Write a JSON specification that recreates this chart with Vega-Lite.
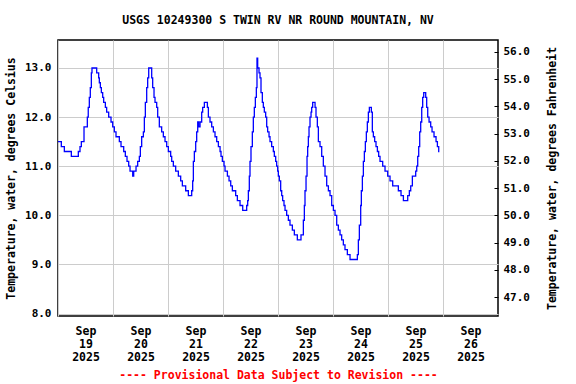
{
  "$schema": "https://vega.github.io/schema/vega-lite/v6.json",
  "autosize": {"type": "none"},
  "width": 440,
  "height": 276,
  "padding": {"left": 58, "top": 40, "right": 78, "bottom": 68},
  "background": "white",
  "title": {"text": "USGS 10249300 S TWIN RV NR ROUND MOUNTAIN, NV", "font": "DejaVu Sans Mono", "fontSize": 11.5, "fontWeight": "bold", "color": "black", "anchor": "middle", "offset": 14},
  "config": {
    "view": {"stroke": "black", "strokeWidth": 1.5},
    "axis": {"labelFont": "DejaVu Sans Mono", "labelFontWeight": "bold", "labelColor": "black", "titleFont": "DejaVu Sans Mono", "titleFontWeight": "bold", "titleColor": "black", "domain": false}
  },
  "data": {"values": [
    {"t":"2025-09-19T00:00","v":11.5},{"t":"2025-09-19T01:27","v":11.4},{"t":"2025-09-19T02:46","v":11.3},{"t":"2025-09-19T05:49","v":11.2},{"t":"2025-09-19T08:52","v":11.3},{"t":"2025-09-19T09:36","v":11.4},{"t":"2025-09-19T10:11","v":11.5},{"t":"2025-09-19T11:21","v":11.8},{"t":"2025-09-19T12:48","v":12.0},{"t":"2025-09-19T13:12","v":12.2},{"t":"2025-09-19T13:40","v":12.4},{"t":"2025-09-19T14:06","v":12.6},{"t":"2025-09-19T14:33","v":12.9},{"t":"2025-09-19T14:50","v":13.0},{"t":"2025-09-19T16:53","v":12.9},{"t":"2025-09-19T17:45","v":12.8},{"t":"2025-09-19T18:02","v":12.7},{"t":"2025-09-19T18:29","v":12.6},{"t":"2025-09-19T18:55","v":12.5},{"t":"2025-09-19T19:30","v":12.4},{"t":"2025-09-19T19:56","v":12.3},{"t":"2025-09-19T20:40","v":12.2},{"t":"2025-09-19T21:14","v":12.1},{"t":"2025-09-19T22:07","v":12.0},{"t":"2025-09-19T23:08","v":11.9},{"t":"2025-09-19T23:52","v":11.8},
    {"t":"2025-09-20T00:35","v":11.7},{"t":"2025-09-20T01:19","v":11.6},{"t":"2025-09-20T02:46","v":11.5},{"t":"2025-09-20T03:30","v":11.4},{"t":"2025-09-20T04:40","v":11.3},{"t":"2025-09-20T05:23","v":11.2},{"t":"2025-09-20T06:07","v":11.1},{"t":"2025-09-20T06:51","v":11.0},{"t":"2025-09-20T07:26","v":10.9},{"t":"2025-09-20T08:36","v":10.8},{"t":"2025-09-20T09:02","v":10.9},{"t":"2025-09-20T10:03","v":11.0},{"t":"2025-09-20T10:46","v":11.1},{"t":"2025-09-20T11:30","v":11.2},{"t":"2025-09-20T11:56","v":11.4},{"t":"2025-09-20T12:31","v":11.6},{"t":"2025-09-20T13:15","v":11.7},{"t":"2025-09-20T13:41","v":12.0},{"t":"2025-09-20T14:07","v":12.3},{"t":"2025-09-20T14:42","v":12.6},{"t":"2025-09-20T15:08","v":12.8},{"t":"2025-09-20T15:35","v":13.0},{"t":"2025-09-20T16:53","v":12.8},{"t":"2025-09-20T17:19","v":12.6},{"t":"2025-09-20T17:54","v":12.4},{"t":"2025-09-20T18:20","v":12.3},{"t":"2025-09-20T19:04","v":12.2},{"t":"2025-09-20T19:30","v":12.0},{"t":"2025-09-20T20:13","v":11.8},{"t":"2025-09-20T21:14","v":11.7},{"t":"2025-09-20T21:58","v":11.6},{"t":"2025-09-20T22:42","v":11.5},{"t":"2025-09-20T23:26","v":11.4},
    {"t":"2025-09-21T00:09","v":11.3},{"t":"2025-09-21T01:10","v":11.2},{"t":"2025-09-21T01:37","v":11.1},{"t":"2025-09-21T02:20","v":11.0},{"t":"2025-09-21T03:21","v":10.9},{"t":"2025-09-21T04:31","v":10.8},{"t":"2025-09-21T05:32","v":10.7},{"t":"2025-09-21T06:16","v":10.6},{"t":"2025-09-21T07:43","v":10.5},{"t":"2025-09-21T08:53","v":10.4},{"t":"2025-09-21T10:20","v":10.5},{"t":"2025-09-21T10:46","v":10.7},{"t":"2025-09-21T11:04","v":11.1},{"t":"2025-09-21T11:30","v":11.3},{"t":"2025-09-21T12:05","v":11.5},{"t":"2025-09-21T12:31","v":11.7},{"t":"2025-09-21T12:58","v":11.9},{"t":"2025-09-21T13:23","v":11.8},{"t":"2025-09-21T13:59","v":11.9},{"t":"2025-09-21T14:42","v":12.1},{"t":"2025-09-21T15:08","v":12.2},{"t":"2025-09-21T15:52","v":12.3},{"t":"2025-09-21T17:11","v":12.2},{"t":"2025-09-21T17:37","v":12.0},{"t":"2025-09-21T18:20","v":11.9},{"t":"2025-09-21T19:04","v":11.8},{"t":"2025-09-21T19:48","v":11.7},{"t":"2025-09-21T20:31","v":11.6},{"t":"2025-09-21T21:15","v":11.5},{"t":"2025-09-21T21:59","v":11.4},{"t":"2025-09-21T22:43","v":11.3},{"t":"2025-09-21T23:08","v":11.2},{"t":"2025-09-21T23:43","v":11.1},
    {"t":"2025-09-22T00:27","v":11.0},{"t":"2025-09-22T00:53","v":10.9},{"t":"2025-09-22T01:55","v":10.8},{"t":"2025-09-22T02:38","v":10.7},{"t":"2025-09-22T03:22","v":10.6},{"t":"2025-09-22T04:05","v":10.5},{"t":"2025-09-22T05:32","v":10.4},{"t":"2025-09-22T06:16","v":10.3},{"t":"2025-09-22T07:26","v":10.2},{"t":"2025-09-22T08:36","v":10.1},{"t":"2025-09-22T10:20","v":10.2},{"t":"2025-09-22T10:46","v":10.3},{"t":"2025-09-22T11:04","v":10.5},{"t":"2025-09-22T11:29","v":10.8},{"t":"2025-09-22T11:47","v":11.1},{"t":"2025-09-22T12:13","v":11.4},{"t":"2025-09-22T12:48","v":11.7},{"t":"2025-09-22T13:14","v":12.0},{"t":"2025-09-22T13:40","v":12.2},{"t":"2025-09-22T14:07","v":12.4},{"t":"2025-09-22T14:33","v":12.6},{"t":"2025-09-22T14:50","v":13.2},{"t":"2025-09-22T15:08","v":13.0},{"t":"2025-09-22T15:43","v":12.9},{"t":"2025-09-22T16:09","v":12.8},{"t":"2025-09-22T16:35","v":12.5},{"t":"2025-09-22T17:10","v":12.3},{"t":"2025-09-22T17:36","v":12.2},{"t":"2025-09-22T18:02","v":12.1},{"t":"2025-09-22T18:37","v":12.0},{"t":"2025-09-22T19:04","v":11.8},{"t":"2025-09-22T19:29","v":11.7},{"t":"2025-09-22T20:05","v":11.6},{"t":"2025-09-22T20:31","v":11.5},{"t":"2025-09-22T21:14","v":11.4},{"t":"2025-09-22T21:58","v":11.3},{"t":"2025-09-22T22:24","v":11.2},{"t":"2025-09-22T22:59","v":11.1},{"t":"2025-09-22T23:25","v":11.0},{"t":"2025-09-22T23:52","v":10.9},
    {"t":"2025-09-23T00:09","v":10.8},{"t":"2025-09-23T00:35","v":10.7},{"t":"2025-09-23T01:10","v":10.5},{"t":"2025-09-23T01:37","v":10.4},{"t":"2025-09-23T02:02","v":10.3},{"t":"2025-09-23T02:37","v":10.2},{"t":"2025-09-23T03:04","v":10.1},{"t":"2025-09-23T03:47","v":10.0},{"t":"2025-09-23T04:31","v":9.9},{"t":"2025-09-23T05:14","v":9.8},{"t":"2025-09-23T06:16","v":9.7},{"t":"2025-09-23T07:08","v":9.6},{"t":"2025-09-23T08:26","v":9.5},{"t":"2025-09-23T10:02","v":9.6},{"t":"2025-09-23T11:04","v":9.9},{"t":"2025-09-23T11:30","v":10.2},{"t":"2025-09-23T11:47","v":10.5},{"t":"2025-09-23T12:14","v":10.8},{"t":"2025-09-23T12:40","v":11.2},{"t":"2025-09-23T12:57","v":11.4},{"t":"2025-09-23T13:15","v":11.6},{"t":"2025-09-23T13:32","v":11.8},{"t":"2025-09-23T13:58","v":12.0},{"t":"2025-09-23T14:25","v":12.1},{"t":"2025-09-23T14:42","v":12.2},{"t":"2025-09-23T15:08","v":12.3},{"t":"2025-09-23T16:10","v":12.2},{"t":"2025-09-23T16:35","v":12.0},{"t":"2025-09-23T17:10","v":11.8},{"t":"2025-09-23T17:37","v":11.5},{"t":"2025-09-23T18:20","v":11.4},{"t":"2025-09-23T19:04","v":11.2},{"t":"2025-09-23T19:47","v":11.0},{"t":"2025-09-23T20:31","v":10.8},{"t":"2025-09-23T21:15","v":10.6},{"t":"2025-09-23T21:59","v":10.5},{"t":"2025-09-23T22:42","v":10.4},{"t":"2025-09-23T23:26","v":10.2},
    {"t":"2025-09-24T00:10","v":10.1},{"t":"2025-09-24T00:53","v":10.0},{"t":"2025-09-24T01:37","v":9.8},{"t":"2025-09-24T02:20","v":9.7},{"t":"2025-09-24T03:04","v":9.6},{"t":"2025-09-24T03:47","v":9.5},{"t":"2025-09-24T04:31","v":9.4},{"t":"2025-09-24T05:14","v":9.3},{"t":"2025-09-24T06:16","v":9.2},{"t":"2025-09-24T07:26","v":9.1},{"t":"2025-09-24T10:38","v":9.2},{"t":"2025-09-24T11:04","v":9.5},{"t":"2025-09-24T11:30","v":9.8},{"t":"2025-09-24T12:05","v":10.2},{"t":"2025-09-24T12:22","v":10.5},{"t":"2025-09-24T12:49","v":10.8},{"t":"2025-09-24T13:15","v":11.1},{"t":"2025-09-24T13:41","v":11.3},{"t":"2025-09-24T14:07","v":11.5},{"t":"2025-09-24T14:33","v":11.7},{"t":"2025-09-24T14:59","v":11.9},{"t":"2025-09-24T15:26","v":12.1},{"t":"2025-09-24T15:52","v":12.2},{"t":"2025-09-24T16:44","v":12.1},{"t":"2025-09-24T17:10","v":11.7},{"t":"2025-09-24T17:37","v":11.6},{"t":"2025-09-24T18:11","v":11.5},{"t":"2025-09-24T18:46","v":11.4},{"t":"2025-09-24T19:22","v":11.3},{"t":"2025-09-24T19:56","v":11.2},{"t":"2025-09-24T20:31","v":11.1},{"t":"2025-09-24T21:41","v":11.0},{"t":"2025-09-24T22:42","v":10.9},{"t":"2025-09-24T23:52","v":10.8},
    {"t":"2025-09-25T00:53","v":10.7},{"t":"2025-09-25T02:03","v":10.6},{"t":"2025-09-25T04:31","v":10.5},{"t":"2025-09-25T05:41","v":10.4},{"t":"2025-09-25T06:43","v":10.3},{"t":"2025-09-25T08:36","v":10.4},{"t":"2025-09-25T09:19","v":10.5},{"t":"2025-09-25T09:55","v":10.6},{"t":"2025-09-25T10:38","v":10.8},{"t":"2025-09-25T12:05","v":10.9},{"t":"2025-09-25T12:32","v":11.0},{"t":"2025-09-25T12:58","v":11.2},{"t":"2025-09-25T13:24","v":11.4},{"t":"2025-09-25T13:50","v":11.7},{"t":"2025-09-25T14:16","v":11.9},{"t":"2025-09-25T14:43","v":12.2},{"t":"2025-09-25T15:08","v":12.4},{"t":"2025-09-25T15:35","v":12.5},{"t":"2025-09-25T16:27","v":12.4},{"t":"2025-09-25T16:53","v":12.2},{"t":"2025-09-25T17:20","v":12.0},{"t":"2025-09-25T17:55","v":11.9},{"t":"2025-09-25T18:38","v":11.8},{"t":"2025-09-25T19:13","v":11.7},{"t":"2025-09-25T20:05","v":11.6},{"t":"2025-09-25T20:58","v":11.5},{"t":"2025-09-25T21:33","v":11.4},{"t":"2025-09-25T22:08","v":11.3},{"t":"2025-09-25T22:25","v":11.3}
  ]},
  "layer": [
    {
      "mark": {"type": "line", "interpolate": "step-after", "color": "#0000ff", "strokeWidth": 1.3},
      "encoding": {
        "x": {
          "field": "t", "type": "temporal",
          "scale": {"domain": [{"year": 2025, "month": 9, "date": 19}, {"year": 2025, "month": 9, "date": 27}], "nice": false},
          "axis": {
            "values": [{"year": 2025, "month": 9, "date": 19}, {"year": 2025, "month": 9, "date": 20}, {"year": 2025, "month": 9, "date": 21}, {"year": 2025, "month": 9, "date": 22}, {"year": 2025, "month": 9, "date": 23}, {"year": 2025, "month": 9, "date": 24}, {"year": 2025, "month": 9, "date": 25}, {"year": 2025, "month": 9, "date": 26}],
            "labelExpr": "[timeFormat(datum.value, '%b'), timeFormat(datum.value, '%d'), timeFormat(datum.value, '%Y')]",
            "labelOffset": 27.5, "labelAlign": "center", "labelFontSize": 11.5, "labelLineHeight": 13, "labelPadding": 9,
            "ticks": false, "grid": true, "gridColor": "#cccccc", "gridWidth": 1, "gridOpacity": 1,
            "labelFlush": false, "labelOverlap": false,
            "title": "---- Provisional Data Subject to Revision ----", "titleColor": "#ff0000", "titleFontSize": 11.5, "titlePadding": 7
          }
        },
        "y": {
          "field": "v", "type": "quantitative",
          "scale": {"domain": [7.95, 13.57], "nice": false, "zero": false},
          "axis": {
            "values": [8, 9, 10, 11, 12, 13], "format": ".1f", "labelFontSize": 11, "labelPadding": 7,
            "ticks": false, "grid": true, "gridColor": "#cccccc", "gridWidth": 1, "gridOpacity": 1,
            "title": "Temperature, water, degrees Celsius", "titleFontSize": 11.5, "titlePadding": 8
          }
        }
      }
    },
    {
      "mark": {"type": "point", "opacity": 0},
      "encoding": {
        "y": {
          "datum": 50, "type": "quantitative",
          "scale": {"domain": [46.31, 56.43], "nice": false, "zero": false},
          "axis": {
            "orient": "right", "values": [47, 48, 49, 50, 51, 52, 53, 54, 55, 56], "format": ".1f", "labelFontSize": 11,
            "ticks": true, "tickSize": -4, "tickColor": "black", "labelPadding": 9, "grid": false,
            "title": "Temperature, water, degrees Fahrenheit", "titleFontSize": 11.5, "titlePadding": 17, "titleAngle": 270, "titleBaseline": "top"
          }
        }
      }
    }
  ],
  "resolve": {"scale": {"y": "independent"}, "axis": {"y": "independent"}}
}
